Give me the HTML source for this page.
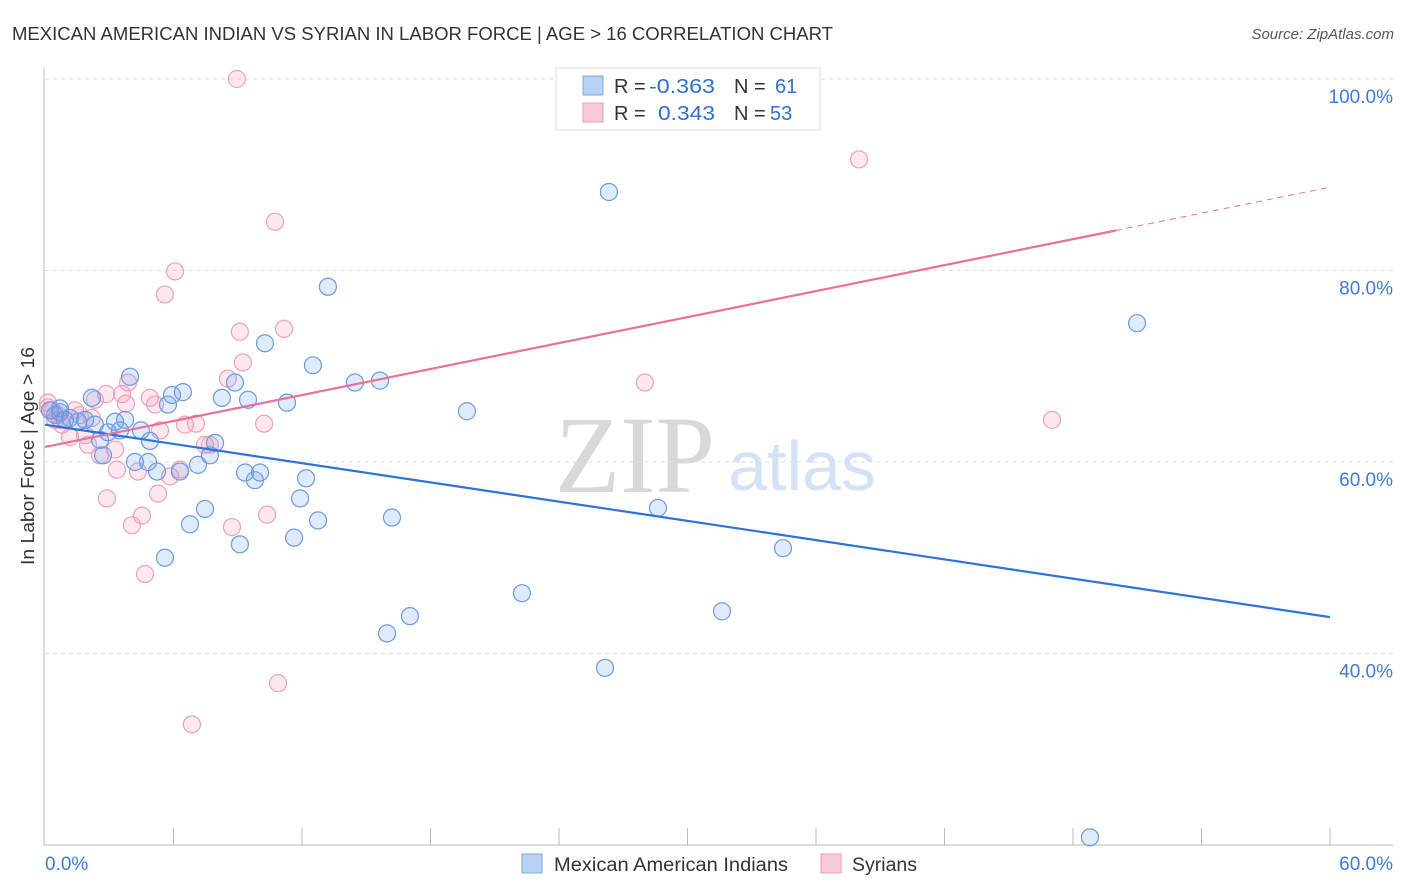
<!DOCTYPE html>
<html><head><meta charset="utf-8"><style>
body{margin:0;background:#fff;font-family:"Liberation Sans",sans-serif;}
svg{display:block}
</style></head><body>
<svg id="c" width="1406" height="892" xmlns="http://www.w3.org/2000/svg">
<text x="12" y="40" font-size="18" fill="#333" textLength="821" lengthAdjust="spacingAndGlyphs">MEXICAN AMERICAN INDIAN VS SYRIAN IN LABOR FORCE | AGE &gt; 16 CORRELATION CHART</text>
<text x="1394" y="39" font-size="15" fill="#555" font-style="italic" text-anchor="end">Source: ZipAtlas.com</text>
<text x="635" y="492" font-size="110" fill="#d8d8d8" font-family="Liberation Serif,serif" text-anchor="middle" textLength="160" lengthAdjust="spacingAndGlyphs">ZIP</text>
<text x="802" y="490" font-size="70" fill="#d4e2f5" text-anchor="middle">atlas</text>
<g id="grid"></g><g id="axes"></g><g id="marks"></g><g id="lines"></g>
<text transform="translate(34,456) rotate(-90)" font-size="18" fill="#333" text-anchor="middle" textLength="218" lengthAdjust="spacingAndGlyphs">In Labor Force | Age &gt; 16</text>
<g>
<rect x="556" y="68" width="264" height="62" fill="#fff" stroke="#ddd"/>
<rect x="583" y="76" width="20" height="19" fill="#b9d1f4" stroke="#7ea6e6"/>
<rect x="583" y="103" width="20" height="19" fill="#f9c9d8" stroke="#ee9bb6"/>
<text x="614" y="93" font-size="20" fill="#333">R = <tspan x="649" fill="#2f6fd6" textLength="66" lengthAdjust="spacingAndGlyphs">-0.363</tspan><tspan x="734">N = </tspan><tspan x="775" fill="#2f6fd6">61</tspan></text>
<text x="614" y="120" font-size="20" fill="#333">R = <tspan x="658" fill="#2f6fd6" textLength="57" lengthAdjust="spacingAndGlyphs">0.343</tspan><tspan x="734">N = </tspan><tspan x="770" fill="#2f6fd6">53</tspan></text>
</g>
<g>
<rect x="522" y="854" width="20" height="19" fill="#b9d1f4" stroke="#7ea6e6"/>
<text x="554" y="871" font-size="19" fill="#333" textLength="234" lengthAdjust="spacingAndGlyphs">Mexican American Indians</text>
<rect x="821" y="854" width="20" height="19" fill="#f9c9d8" stroke="#ee9bb6"/>
<text x="852" y="871" font-size="19" fill="#333" textLength="65" lengthAdjust="spacingAndGlyphs">Syrians</text>
</g>
</svg>
<script>
const yTicks=[100,80,60,40];
const yTickLabels=["100.0%","80.0%","60.0%","40.0%"];
const blueX=[0.23,0.47,0.70,0.93,1.17,1.54,1.87,2.19,2.33,2.57,2.71,2.94,3.27,3.50,3.74,3.97,4.20,4.48,4.81,4.90,5.23,5.60,5.74,5.93,6.30,6.44,6.77,7.14,7.47,7.70,7.94,8.26,8.87,9.10,9.34,9.48,9.80,10.04,10.27,11.30,11.63,11.91,12.19,12.51,12.75,13.21,14.47,15.64,15.97,16.20,17.04,19.70,22.27,26.15,26.33,28.62,31.61,34.46,50.99,48.79,0.70];
const blueY=[65.4,64.9,65.2,64.4,64.6,64.2,64.4,66.7,63.9,62.3,60.7,63.1,64.2,63.3,64.4,68.9,60.0,63.3,60.0,62.2,59.0,50.0,66.0,67.0,59.0,67.3,53.5,59.7,55.1,60.7,62.0,66.7,68.3,51.4,58.9,66.5,58.1,58.9,72.4,66.2,52.1,56.2,58.3,70.1,53.9,78.3,68.3,68.5,42.1,54.2,43.9,65.3,46.3,38.5,88.2,55.2,44.4,51.0,74.5,20.8,65.6];
const pinkX=[0.14,0.33,0.61,0.79,1.17,1.40,1.63,1.87,2.01,2.19,2.33,2.57,2.85,2.89,3.27,3.36,3.60,3.78,3.88,4.06,4.34,4.53,4.67,4.90,5.14,5.28,5.37,5.60,5.84,6.07,6.30,6.54,6.86,7.05,7.47,7.70,8.54,8.73,8.96,9.10,9.24,10.23,10.37,10.74,10.88,11.16,27.78,28.01,38.01,47.02,0.47,0.70,0.14];
const pinkY=[66.2,65.4,64.9,63.9,62.6,65.4,64.9,62.8,61.8,64.6,66.5,60.7,67.1,56.2,61.3,59.2,67.1,66.1,68.3,53.4,59.0,54.4,48.3,66.7,66.0,56.7,63.3,77.5,58.5,79.9,59.2,63.9,32.6,64.0,61.8,61.8,68.7,53.2,100,73.6,70.4,64.0,54.5,85.1,36.9,73.9,100,68.3,91.6,64.4,64.4,64.4,65.7];
const blueTrend=[63.9,43.8];
const pinkTrend=[61.57,88.7];
const pinkSolidEnd=50;

const NS="http://www.w3.org/2000/svg";
const X=v=>45+v/60*1285;
const Y=v=>79+(100-v)*9.575;
function mk(tag,attrs,parent){const e=document.createElementNS(NS,tag);for(const k in attrs)e.setAttribute(k,attrs[k]);document.getElementById(parent).appendChild(e);return e;}
yTicks.forEach((t,i)=>{
 const g=mk('line',{x1:45,x2:1393,y1:Y(t),y2:Y(t),stroke:'#ddd','stroke-dasharray':'4,4'},'grid');
 
 
 const tx=mk('text',{x:1393,y:Y(t)+24,'font-size':19,fill:'#3d7bd9','text-anchor':'end'},'grid');
 tx.textContent=yTickLabels[i];
 
 
});
const ax=mk('line',{x1:44,x2:44,y1:68,y2:845,stroke:'#bbb'},'axes');


const bx=mk('line',{x1:44,x2:1393,y1:845,y2:845,stroke:'#bbb'},'axes');


for(let i=1;i<=10;i++){const t=mk('line',{x1:X(i*6),x2:X(i*6),y1:828,y2:845,stroke:'#bbb'},'axes');
 
 }
[["0.0%",45,"start"],["60.0%",1393,"end"]].forEach(a=>{const t=mk('text',{x:a[1],y:870,'font-size':19,fill:'#3d7bd9','text-anchor':a[2]},'axes');t.textContent=a[0];
 
 });
pinkX.forEach((x,i)=>{const c=mk('circle',{cx:X(x),cy:Y(pinkY[i]),r:8.5,fill:'rgba(244,150,180,0.22)',stroke:'#efa0ba','stroke-width':1.2},'marks');
 
 });
blueX.forEach((x,i)=>{const c=mk('circle',{cx:X(x),cy:Y(blueY[i]),r:8.5,fill:'rgba(110,160,235,0.22)',stroke:'#6b9be3','stroke-width':1.2},'marks');
 
 });
const bl=mk('line',{x1:X(0),y1:Y(blueTrend[0]),x2:X(60),y2:Y(blueTrend[1]),stroke:'#2f72d8','stroke-width':2.2},'lines');


const pm=pinkTrend[0]+(pinkTrend[1]-pinkTrend[0])*pinkSolidEnd/60;
const pl=mk('line',{x1:X(0),y1:Y(pinkTrend[0]),x2:X(pinkSolidEnd),y2:Y(pm),stroke:'#e8709a','stroke-width':2.2},'lines');


const pd=mk('line',{x1:X(pinkSolidEnd),y1:Y(pm),x2:X(60),y2:Y(pinkTrend[1]),stroke:'#e8709a','stroke-width':1,'stroke-dasharray':'6,5'},'lines');


</script>
</body></html>
